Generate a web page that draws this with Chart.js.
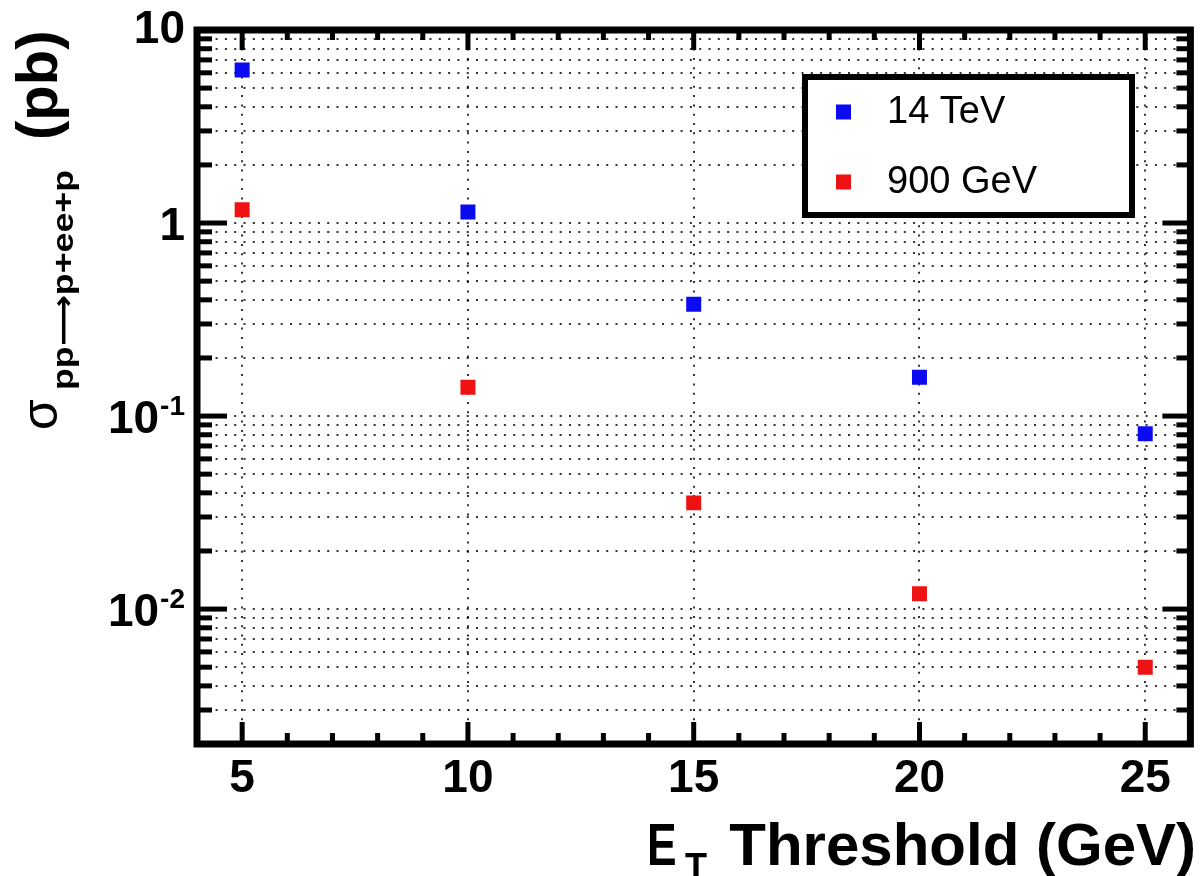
<!DOCTYPE html>
<html>
<head>
<meta charset="utf-8">
<title>pp -> p+ee+p cross section vs ET threshold</title>
<script src="https://cdn.jsdelivr.net/npm/chart.js@4.4.1/dist/chart.umd.min.js"></script>
<style>
  html, body { margin: 0; padding: 0; background: #fff; }
  #wrap { width: 1201px; height: 876px; position: relative; }
</style>
</head>
<body>
<div id="wrap"><canvas id="xsec" width="1201" height="876"></canvas></div>
<script>
// ── Data ──────────────────────────────────────────────────────────────────────
const thresholds = [5, 10, 15, 20, 25];                       // ET threshold (GeV)
const xsec14TeV  = [6.2, 1.14, 0.38, 0.159, 0.081];           // pb
const xsec900GeV = [1.17, 0.141, 0.0355, 0.0120, 0.0050];     // pb

// ── Axes ──────────────────────────────────────────────────────────────────────
const X_MIN = 4, X_MAX = 26;
const Y_MIN = 0.002, Y_MAX = 10;
const xMajor = [5, 10, 15, 20, 25];
const xLabels = ['5', '10', '15', '20', '25'];
const xMinor = [6, 7, 8, 9, 11, 12, 13, 14, 16, 17, 18, 19, 21, 22, 23, 24];
const yMajor = [0.01, 0.1, 1, 10];
const yLabels = [['10', '-2'], ['10', '-1'], ['1', ''], ['10', '']];
const yMinor = [0.003, 0.004, 0.005, 0.006, 0.007, 0.008, 0.009,
                0.02, 0.03, 0.04, 0.05, 0.06, 0.07, 0.08, 0.09,
                0.2, 0.3, 0.4, 0.5, 0.6, 0.7, 0.8, 0.9,
                2, 3, 4, 5, 6, 7, 8, 9];

const BLUE = '#0b0bf2';
const RED  = '#ee1212';
const FONT = "'Liberation Sans', Arial, Helvetica, sans-serif";

const pts = ys => thresholds.map((x, i) => ({ x, y: ys[i] }));
const gridTicks = vals => scale => { scale.ticks = vals.map(v => ({ value: v })); };

// ── ROOT-style frame, inward ticks, labels and legend ────────────────────────
const rootFrame = {
    id: 'rootFrame',
    afterDraw(chart) {
        const { ctx, chartArea: a, scales: { x, y } } = chart;
        const seg = (x1, y1, x2, y2) => { ctx.beginPath(); ctx.moveTo(x1, y1); ctx.lineTo(x2, y2); ctx.stroke(); };
        ctx.save();
        ctx.strokeStyle = '#000';
        ctx.fillStyle = '#000';
        ctx.lineCap = 'butt';

        // tick marks
        ctx.lineWidth = 5;
        xMajor.forEach(v => { const p = x.getPixelForValue(v); seg(p, a.bottom, p, a.bottom - 22); seg(p, a.top, p, a.top + 20); });
        xMinor.forEach(v => { const p = x.getPixelForValue(v); seg(p, a.bottom, p, a.bottom - 11); seg(p, a.top, p, a.top + 10); });
        yMajor.forEach(v => { const p = y.getPixelForValue(v); seg(a.left, p, a.left + 30, p); seg(a.right, p, a.right - 28, p); });
        yMinor.forEach(v => { const p = y.getPixelForValue(v); seg(a.left, p, a.left + 15, p); seg(a.right, p, a.right - 14, p); });

        // frame
        ctx.lineWidth = 7;
        ctx.strokeRect(a.left, a.top, a.right - a.left, a.bottom - a.top);

        // x tick labels
        ctx.font = `bold 46px ${FONT}`;
        ctx.textAlign = 'center';
        ctx.textBaseline = 'alphabetic';
        xMajor.forEach((v, i) => ctx.fillText(xLabels[i], x.getPixelForValue(v), 792));

        // y tick labels (10^n with superscript exponent)
        const right = 185;
        yMajor.forEach((v, i) => {
            const [base, exp] = yLabels[i];
            let bl = y.getPixelForValue(v) + 17;
            if (v === Y_MAX) bl -= 4;
            ctx.textAlign = 'right';
            ctx.font = `bold 28px ${FONT}`;
            const ew = exp ? ctx.measureText(exp).width : 0;
            if (exp) ctx.fillText(exp, right, bl - 18);
            ctx.font = `bold 46px ${FONT}`;
            ctx.fillText(base, right - ew - (exp ? 1 : 0), bl);
        });

        // x axis title: E_T Threshold (GeV)
        ctx.textAlign = 'right';
        ctx.font = `bold 60px ${FONT}`;
        ctx.fillText('Threshold (GeV)', 1196, 865);
        ctx.textAlign = 'left';
        ctx.save();
        ctx.translate(647, 865);
        ctx.scale(0.74, 1);
        ctx.fillText('E', 0, 0);
        ctx.restore();
        ctx.font = `bold 36px ${FONT}`;
        ctx.fillText('T', 685, 879);

        // y axis title: sigma_{pp->p+ee+p} (pb), rotated
        ctx.save();
        ctx.translate(57, 430);
        ctx.rotate(-Math.PI / 2);
        ctx.textAlign = 'left';
        ctx.font = `50px ${FONT}`;
        ctx.fillText('σ', 0, 0);

        // subscript in pieces so the arrow gets a long glyph
        const subParts = [
            ['pp', `bold 30px ${FONT}`],
            ['⟶', "bold 30px 'DejaVu Sans', sans-serif"],
            ['p+ee+p', `bold 30px ${FONT}`],
        ];
        const widths = subParts.map(([t, f]) => { ctx.font = f; return ctx.measureText(t).width; });
        const total = widths.reduce((s, w) => s + w, 0);
        ctx.save();
        ctx.translate(40, 16);
        ctx.scale(220 / total, 1);
        let off = 0;
        subParts.forEach(([t, f], i) => {
            ctx.font = f;
            ctx.fillText(t, off, 0);
            off += widths[i];
        });
        ctx.restore();

        ctx.font = `bold 58px ${FONT}`;
        ctx.fillText('(pb)', 290, 0);
        ctx.restore();

        // legend box
        const L = { x: 805, y: 77, w: 327, h: 138 };
        ctx.fillStyle = '#fff';
        ctx.fillRect(L.x, L.y, L.w, L.h);
        ctx.lineWidth = 6;
        ctx.strokeRect(L.x, L.y, L.w, L.h);
        ctx.font = `38px ${FONT}`;
        ctx.textAlign = 'left';
        chart.data.datasets.forEach((ds, i) => {
            const cy = 112 + i * 70;
            ctx.fillStyle = ds.backgroundColor;
            ctx.fillRect(836, cy - 7.5, 15, 15);
            ctx.fillStyle = '#000';
            ctx.fillText(ds.label, 887, cy + 11);
        });
        ctx.restore();
    }
};

// ── Chart ─────────────────────────────────────────────────────────────────────
const marker = { pointStyle: 'rect', pointRadius: 10.6, pointHoverRadius: 10.6, borderWidth: 0, showLine: false };

new Chart(document.getElementById('xsec'), {
    type: 'scatter',
    data: {
        datasets: [
            { label: '14 TeV',  data: pts(xsec14TeV),  backgroundColor: BLUE, borderColor: BLUE, ...marker },
            { label: '900 GeV', data: pts(xsec900GeV), backgroundColor: RED,  borderColor: RED,  ...marker },
        ]
    },
    options: {
        responsive: false,
        animation: false,
        devicePixelRatio: 1,
        events: [],
        layout: { padding: { left: 197, top: 30, right: 4, bottom: 132 } },
        plugins: { legend: { display: false }, tooltip: { enabled: false } },
        scales: {
            x: {
                type: 'linear', min: X_MIN, max: X_MAX,
                afterBuildTicks: gridTicks(xMajor),
                ticks: { display: false },
                grid: { color: 'rgba(0,0,0,0.8)', lineWidth: 2, drawTicks: false },
                border: { display: false, dash: [2, 7.3] }
            },
            y: {
                type: 'logarithmic', min: Y_MIN, max: Y_MAX,
                afterBuildTicks: gridTicks([...yMinor, 0.01, 0.1, 1].sort((p, q) => p - q)),
                ticks: { display: false },
                grid: { color: 'rgba(0,0,0,0.8)', lineWidth: 2, drawTicks: false },
                border: { display: false, dash: [2, 7.3] }
            }
        }
    },
    plugins: [rootFrame]
});
</script>
</body>
</html>
